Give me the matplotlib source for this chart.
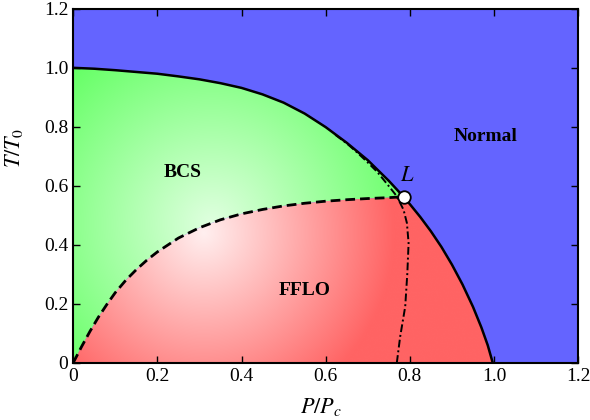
import numpy as np
import matplotlib.pyplot as plt
from matplotlib.patches import Polygon

plt.rcParams['font.family'] = ['Liberation Serif', 'DejaVu Serif']
plt.rcParams['mathtext.fontset'] = 'stix'

# -----------------------------
# data
# -----------------------------
# BCS / Normal boundary (solid), from T/T0 = 1 down to the Lifshitz point L
p_upper = [0.0, 0.05, 0.10, 0.15, 0.20, 0.25, 0.30, 0.35, 0.40, 0.45, 0.50,
           0.55, 0.60, 0.65, 0.70, 0.75, 0.785]
t_upper = [1.0, 0.997, 0.992, 0.986, 0.980, 0.971, 0.961, 0.948, 0.932, 0.910,
           0.882, 0.845, 0.799, 0.746, 0.687, 0.617, 0.563]

# FFLO / Normal boundary (solid), from L down to P/Pc = 1
p_lower = [0.785, 0.80, 0.825, 0.85, 0.875, 0.90, 0.925, 0.95, 0.97, 0.985, 0.997]
t_lower = [0.563, 0.538, 0.494, 0.446, 0.393, 0.333, 0.266, 0.19, 0.12, 0.06, 0.0]

# BCS / FFLO boundary (dashed)
p_dash = [0.0, 0.02, 0.04, 0.06, 0.08, 0.10, 0.125, 0.15, 0.175, 0.20, 0.25,
          0.30, 0.35, 0.40, 0.45, 0.50, 0.55, 0.60, 0.65, 0.70, 0.75, 0.785]
t_dash = [0.0, 0.055, 0.107, 0.155, 0.198, 0.238, 0.28, 0.316, 0.348, 0.376,
          0.423, 0.458, 0.485, 0.505, 0.52, 0.532, 0.541, 0.548, 0.553, 0.557,
          0.56, 0.563]

# dash-dot line
p_dd = [0.769, 0.777, 0.789, 0.794, 0.797, 0.793, 0.785, 0.773, 0.765, 0.745,
        0.722, 0.698, 0.674, 0.65, 0.62]
t_dd = [0.0, 0.089, 0.191, 0.304, 0.406, 0.474, 0.519, 0.553, 0.572, 0.608,
        0.648, 0.682, 0.714, 0.744, 0.776]

L_point = (0.785, 0.563)

ticks = [0.0, 0.2, 0.4, 0.6, 0.8, 1.0, 1.2]
tick_labels = ['0', '0.2', '0.4', '0.6', '0.8', '1.0', '1.2']

blue = (100/255, 100/255, 1.0)
green = (100/255, 1.0, 100/255)
red = (1.0, 100/255, 100/255)

# -----------------------------
# figure
# -----------------------------
fig = plt.figure(figsize=(5.9, 4.2), dpi=100)
ax = fig.add_axes([0.124, 0.136, 0.856, 0.843])
ax.set_facecolor(blue)
ax.set_xlim(0, 1.2)
ax.set_ylim(0, 1.2)

# radial pale -> colour gradient
nx = 600
xs = np.linspace(0, 1.2, nx)
X, Y = np.meshgrid(xs, xs)

def gradient(base, cx, cy, radius, t0):
    d = np.hypot((X - cx) * 421, (Y - cy) * 295) / radius
    t = t0 + (1 - t0) * np.clip(d, 0, 1)
    img = np.ones((nx, nx, 3))
    for k in range(3):
        img[..., k] = 1 - (1 - base[k]) * t
    return img

green_poly = Polygon(list(zip(p_upper, t_upper)) + list(zip(p_dash[::-1], t_dash[::-1])),
                     closed=True, transform=ax.transData, facecolor='none', edgecolor='none')
red_poly = Polygon(list(zip(p_dash, t_dash)) + list(zip(p_lower, t_lower)),
                   closed=True, transform=ax.transData, facecolor='none', edgecolor='none')
ax.add_patch(green_poly)
ax.add_patch(red_poly)

im_g = ax.imshow(gradient(green, 0.33, 0.47, 210, 0.2), origin='lower',
                 extent=[0, 1.2, 0, 1.2], aspect='auto', interpolation='bilinear')
im_g.set_clip_path(green_poly)
im_r = ax.imshow(gradient(red, 0.31, 0.44, 190, 0.1), origin='lower',
                 extent=[0, 1.2, 0, 1.2], aspect='auto', interpolation='bilinear')
im_r.set_clip_path(red_poly)

# boundaries
ax.plot(p_upper, t_upper, color='black', lw=1.8)
ax.plot(p_lower, t_lower, color='black', lw=1.8)
ax.plot(p_dash, t_dash, color='black', lw=2.0, dashes=(3.5, 1.8))
ax.plot(p_dd, t_dd, color='black', lw=1.4, dashes=(4, 1.5, 1, 1.5))
ax.plot(*L_point, marker='o', ms=9, mfc='white', mec='black', mew=1.3, zorder=5)

ax.text(0.261, 0.644, 'BCS', fontsize=14, fontweight='bold', ha='center', va='center')
ax.text(0.549, 0.247, 'FFLO', fontsize=14, fontweight='bold', ha='center', va='center')
ax.text(0.979, 0.766, 'Normal', fontsize=14, fontweight='bold', ha='center', va='center')
ax.text(0.794, 0.63, '$L$', fontsize=16, ha='center', va='center')

ax.set_xticks(ticks)
ax.set_yticks(ticks)
ax.set_xticklabels(tick_labels)
ax.set_yticklabels(tick_labels)
ax.tick_params(direction='in', length=5, width=1, top=True, right=True, labelsize=14)
ax.set_xlabel('$P/P_c$', fontsize=16, va='center')
ax.xaxis.set_label_coords(0.49, -0.124)
ax.set_ylabel('$T/T_0$', fontsize=16, va='center')
ax.yaxis.set_label_coords(-0.117, 0.607)
for s in ax.spines.values():
    s.set_linewidth(1.5)

fig.savefig('out.png', dpi=100)
